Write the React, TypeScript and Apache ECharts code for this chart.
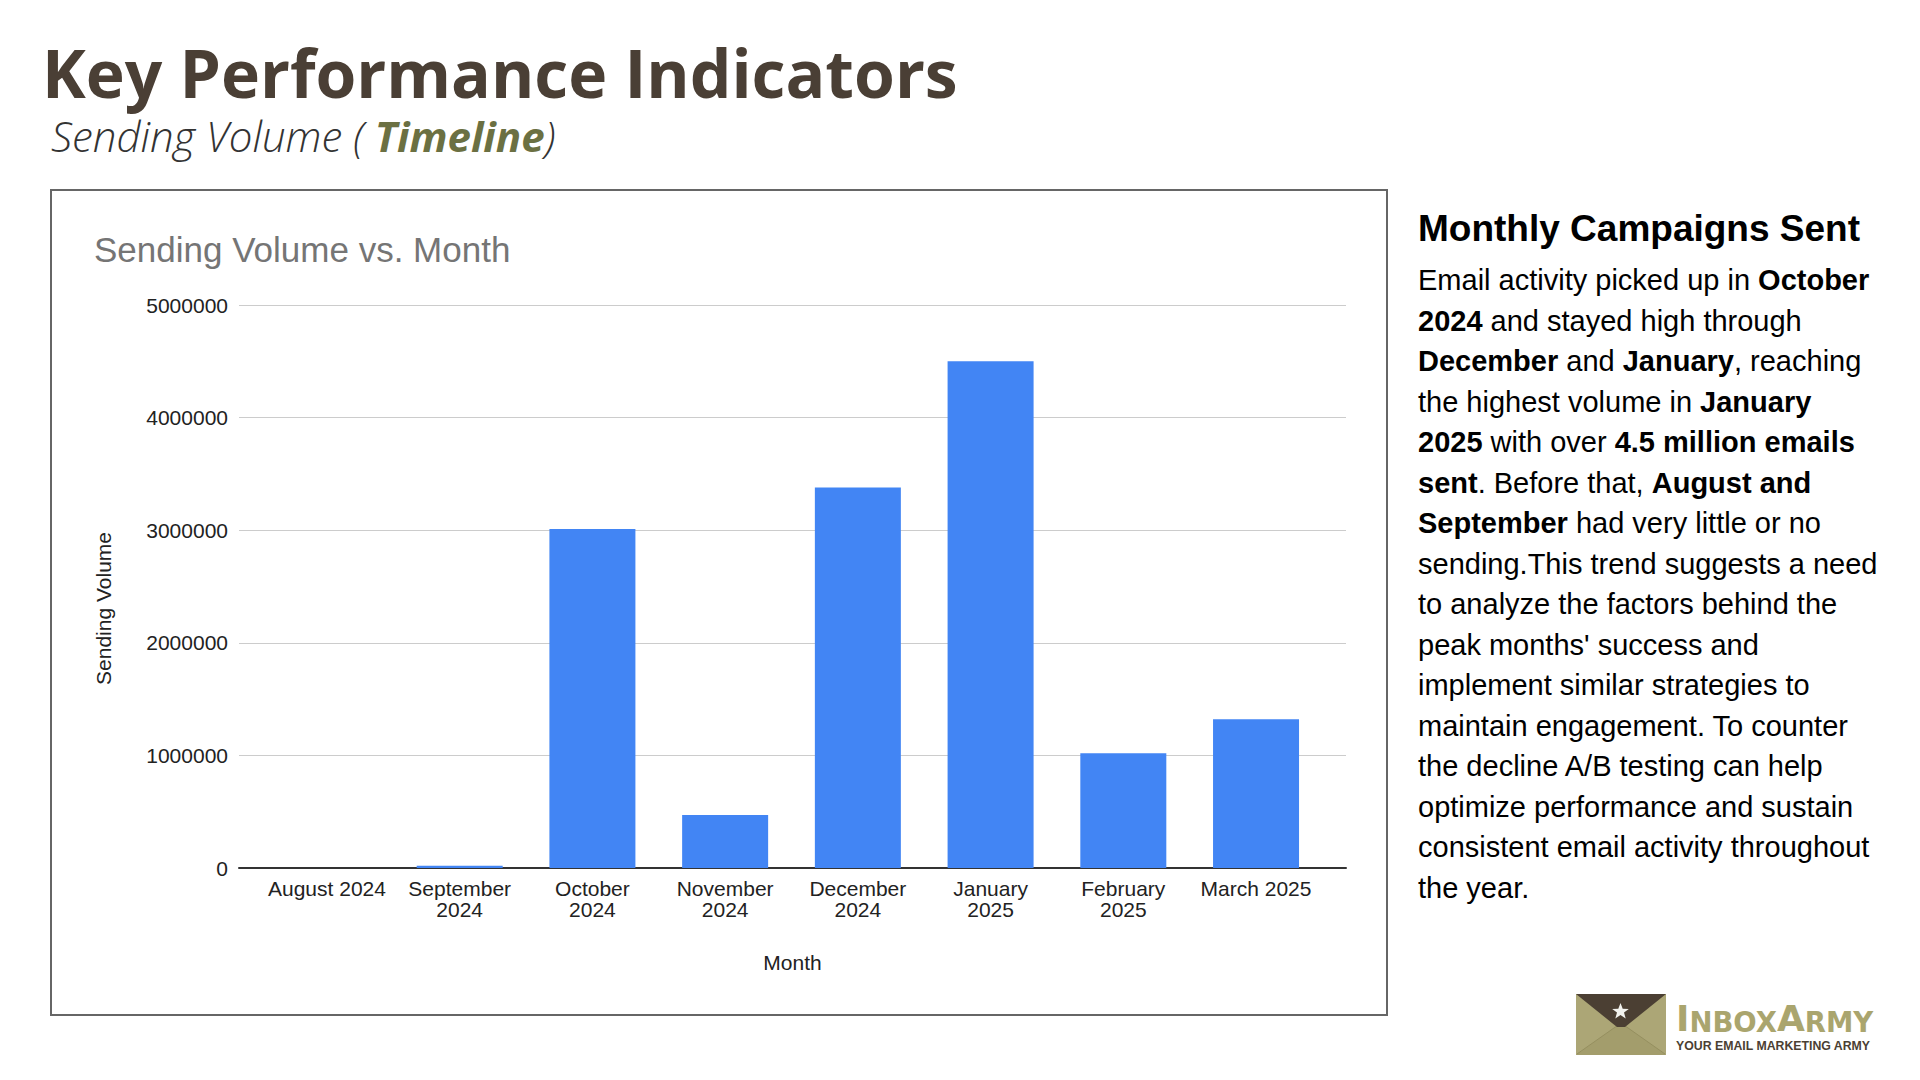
import React, { useEffect, useRef } from "react";
import * as echarts from "echarts";

const months = [
  "August 2024",
  "September\n2024",
  "October\n2024",
  "November\n2024",
  "December\n2024",
  "January\n2025",
  "February\n2025",
  "March 2025",
];
const sendingVolume = [0, 20000, 3010000, 470000, 3380000, 4500000, 1020000, 1320000];
const yMin = 0;
const yMax = 5000000;
const yStep = 1000000;

const pageTitle = "Key Performance Indicators";
const chartTitle = "Sending Volume vs. Month";
const yName = "Sending Volume";
const xName = "Month";
const panelHeading = "Monthly Campaigns Sent";
const panelLines = [
  "Email activity picked up in {b|October}",
  "{b|2024} and stayed high through",
  "{b|December} and {b|January}, reaching",
  "the highest volume in {b|January}",
  "{b|2025} with over {b|4.5 million emails}",
  "{b|sent}. Before that, {b|August and}",
  "{b|September} had very little or no",
  "sending.This trend suggests a need",
  "to analyze the factors behind the",
  "peak months' success and",
  "implement similar strategies to",
  "maintain engagement. To counter",
  "the decline A/B testing can help",
  "optimize performance and sustain",
  "consistent email activity throughout",
  "the year.",
];

const SANS = "'Liberation Sans', Arial, Helvetica, sans-serif";
const OPEN = "'Open Sans', Lato, sans-serif";
const DEJA = "'DejaVu Sans', sans-serif";

export default function App() {
  const ref = useRef<HTMLDivElement>(null);
  useEffect(() => {
    if (!ref.current) return;
    const chart = echarts.init(ref.current, undefined, { renderer: "svg" });
    const outer = { left: 239, right: 574, top: 305, bottom: 212 };
    const inner = { left: 260.6, right: 597.6, top: 305, bottom: 212 };
    chart.setOption({
      animation: false,
      backgroundColor: "#ffffff",
      title: [
        {
          text: chartTitle,
          left: 94,
          top: 232,
          padding: 0,
          textStyle: { fontFamily: SANS, fontSize: 35, fontWeight: "normal", color: "#757575" },
        },
      ],
      grid: [
        { ...outer, containLabel: false },
        { ...inner, containLabel: false },
      ],
      xAxis: [
        {
          gridIndex: 0,
          type: "value",
          min: 0,
          max: 1,
          axisLabel: { show: false },
          axisTick: { show: false },
          splitLine: { show: false },
          axisLine: { show: true, lineStyle: { color: "#333333", width: 2 } },
          name: xName,
          nameLocation: "middle",
          nameGap: 84,
          nameTextStyle: { fontFamily: SANS, fontSize: 21, color: "#222222" },
        },
        {
          gridIndex: 1,
          type: "category",
          data: months,
          axisLine: { show: false },
          axisTick: { show: false },
          axisLabel: {
            interval: 0,
            margin: 10,
            fontFamily: SANS,
            fontSize: 21,
            lineHeight: 21,
            color: "#222222",
          },
        },
      ],
      yAxis: [
        {
          gridIndex: 0,
          type: "value",
          min: yMin,
          max: yMax,
          interval: yStep,
          axisLine: { show: false },
          axisTick: { show: false },
          axisLabel: {
            margin: 11,
            fontFamily: SANS,
            fontSize: 21,
            color: "#222222",
            formatter: (v: number) => String(v),
          },
          splitLine: { show: true, lineStyle: { color: "#cccccc", width: 1 } },
          name: yName,
          nameLocation: "middle",
          nameGap: 125,
          nameTextStyle: { fontFamily: SANS, fontSize: 21, color: "#222222", padding: [0, 44, 0, 0] },
        },
        {
          gridIndex: 1,
          type: "value",
          min: yMin,
          max: yMax,
          interval: yStep,
          show: false,
        },
      ],
      series: [
        {
          type: "bar",
          xAxisIndex: 1,
          yAxisIndex: 1,
          data: sendingVolume,
          barWidth: 86,
          itemStyle: { color: "#4285f4" },
          z: 1,
        },
      ],
      graphic: [
        {
          type: "rect",
          shape: { x: 51, y: 190, width: 1336, height: 825 },
          style: { fill: "none", stroke: "#666666", lineWidth: 2 },
          z: 0,
        },
        {
          type: "text",
          x: 42,
          y: 42,
          style: {
            text: pageTitle,
            fontFamily: OPEN,
            fontWeight: "bold",
            fontSize: 66,
            lineHeight: 60,
            fill: "#4a3f35",
            verticalAlign: "top",
          },
        },
        {
          type: "text",
          x: 51,
          y: 113,
          style: {
            text: "{n|Sending Volume (} {t|Timeline}{n|)}",
            verticalAlign: "top",
            lineHeight: 44,
            fontSize: 41,
            fontFamily: OPEN,
            rich: {
              n: { fontFamily: OPEN, fontWeight: 300, fontStyle: "italic", fontSize: 42, lineHeight: 44, fill: "#333333" },
              t: { fontFamily: OPEN, fontWeight: "bold", fontStyle: "italic", fontSize: 42, lineHeight: 44, fill: "#6b7042" },
            },
          },
        },
        {
          type: "text",
          x: 1418,
          y: 210,
          style: {
            text: panelHeading,
            font: "bold 37px " + SANS,
            fill: "#000000",
            verticalAlign: "top",
          },
        },
        {
          type: "text",
          x: 1418,
          y: 260,
          style: {
            text: panelLines.join("\n"),
            fontFamily: SANS,
            fontSize: 29,
            lineHeight: 40.5,
            fill: "#000000",
            verticalAlign: "top",
            rich: {
              b: { fontFamily: SANS, fontSize: 29, fontWeight: "bold", lineHeight: 40.5, fill: "#000000" },
            },
          },
        },
        // logo envelope
        {
          type: "rect",
          shape: { x: 1576, y: 994, width: 90, height: 61 },
          style: { fill: "#aca676" },
        },
        {
          type: "polygon",
          shape: { points: [[1576, 1055], [1621, 1023], [1666, 1055]] },
          style: { fill: "#a39d6c" },
        },
        {
          type: "polyline",
          shape: { points: [[1577, 1054], [1621, 1023], [1665, 1054]] },
          style: { stroke: "#958f5f", lineWidth: 1, fill: "none" },
        },
        {
          type: "polygon",
          shape: { points: [[1576, 994], [1666, 994], [1625, 1027], [1617, 1027]] },
          style: { fill: "#4b3f33" },
        },
        {
          type: "polygon",
          shape: {
            points: [
              [1620.5, 1003], [1622.7, 1008.7], [1628.8, 1008.9], [1624, 1012.6], [1625.7, 1018.5],
              [1620.5, 1015], [1615.3, 1018.5], [1617, 1012.6], [1612.2, 1008.9], [1618.3, 1008.7],
            ],
          },
          style: { fill: "#f2f2ee" },
        },
        {
          type: "text",
          x: 1676,
          y: 1036,
          style: {
            text: "{a|I}{s|NBOX}{a|A}{s|RMY}",
            verticalAlign: "bottom",
            rich: {
              a: { fontFamily: DEJA, fontWeight: "bold", fontSize: 36, fill: "#aaa56e", verticalAlign: "bottom" },
              s: { fontFamily: DEJA, fontWeight: "bold", fontSize: 27.5, fill: "#aaa56e", verticalAlign: "bottom" },
            },
          },
        },
        {
          type: "text",
          x: 1676,
          y: 1039.5,
          style: {
            text: "YOUR EMAIL MARKETING ARMY",
            font: "bold 12.3px " + SANS,
            fill: "#4b3f33",
            verticalAlign: "top",
          },
        },
      ],
    });
    return () => chart.dispose();
  }, []);
  return (
    <div
      ref={ref}
      style={{ position: "fixed", left: 0, top: 0, width: 1920, height: 1080, background: "#ffffff" }}
    />
  );
}
